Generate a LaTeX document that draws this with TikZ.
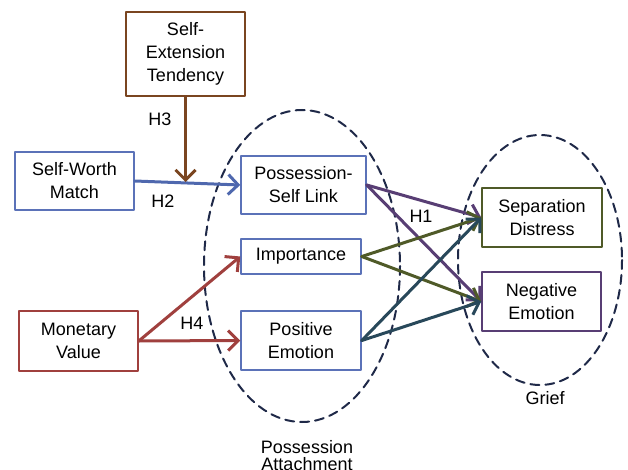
\documentclass[tikz,border=0pt]{standalone}
\usepackage{fontspec}
\setmainfont{Liberation Sans}
\usetikzlibrary{arrows.meta}
\definecolor{extbrown}{HTML}{7A4520}
\definecolor{boxblue}{HTML}{5B72B8}
\definecolor{arrblue}{HTML}{4F68AE}
\definecolor{monred}{HTML}{A0403E}
\definecolor{impgreen}{HTML}{4F5A28}
\definecolor{linkpurple}{HTML}{583E74}
\definecolor{posteal}{HTML}{28485A}
\definecolor{setnavy}{HTML}{1F2948}
\tikzset{
  var/.style={draw,line width=1.5pt,fill=white,align=center,inner sep=0pt,
    font=\fontsize{18}{23}\selectfont},
  path/.style={line width=3pt,-{Straight Barb[length=10pt,width=20pt,line width=3pt]}},
  set/.style={draw=setnavy,line width=2pt,dash pattern=on 9pt off 6pt},
  hyp/.style={align=center,font=\fontsize{18}{23}\selectfont}
}
\begin{document}
\begin{tikzpicture}[line cap=round,line join=round,x=1pt,y=-1pt]
		\useasboundingbox (0,0) rectangle (628,470);
		
		% construct sets
		\draw[set] (302,266) ellipse [x radius=98,y radius=156];
		\draw[set] (540,260) ellipse [x radius=82,y radius=125];
		\node[hyp] (attlabel) at (307,456) {Possession\\[-6pt]Attachment};
		\node[hyp] (grieflabel) at (545,398) {Grief};
		
		% variables
		\node[var,draw=extbrown,minimum width=119pt,minimum height=84pt] (ext) at (185.5,54) {Self-\\Extension\\Tendency};
		\node[var,draw=boxblue,minimum width=119pt,minimum height=58pt] (worth) at (74.5,181) {Self-Worth\\Match};
		\node[var,draw=monred,minimum width=119pt,minimum height=60pt] (money) at (78.5,341) {Monetary\\Value};
		\node[var,draw=boxblue,minimum width=125pt,minimum height=58pt] (link) at (303.5,185) {Possession-\\Self Link};
		\node[var,draw=boxblue,minimum width=120pt,minimum height=35pt] (imp) at (301,256.5) {Importance};
		\node[var,draw=boxblue,minimum width=120pt,minimum height=59pt] (pos) at (301,340.5) {Positive\\Emotion};
		\node[var,draw=impgreen,minimum width=120pt,minimum height=59pt] (sep) at (542,217.5) {Separation\\Distress};
		\node[var,draw=linkpurple,minimum width=119pt,minimum height=59pt] (neg) at (541.5,301.5) {Negative\\Emotion};
		
		% paths
		\draw[path,arrblue] (worth.east) -- (link.west);
		\coordinate (mod) at (185.5,182);
		\draw[path,extbrown] (ext.south) -- (mod);
		\draw[path,monred] (money.east) -- (imp.west);
		\draw[path,monred] (money.east) -- (pos.west);
		\draw[path,linkpurple] (link.east) -- (sep.west);
		\draw[path,linkpurple] (link.east) -- (neg.west);
		\draw[path,impgreen] (imp.east) -- (sep.west);
		\draw[path,impgreen] (imp.east) -- (neg.west);
		\draw[path,posteal] (pos.east) -- (sep.west);
		\draw[path,posteal] (pos.east) -- (neg.west);
		
		\node[hyp] (h3) at (160,119) {H3};
		\node[hyp] (h2) at (163,201) {H2};
		\node[hyp] (h1) at (421,216) {H1};
		\node[hyp] (h4) at (192,323) {H4};
	\end{tikzpicture}
\end{document}
